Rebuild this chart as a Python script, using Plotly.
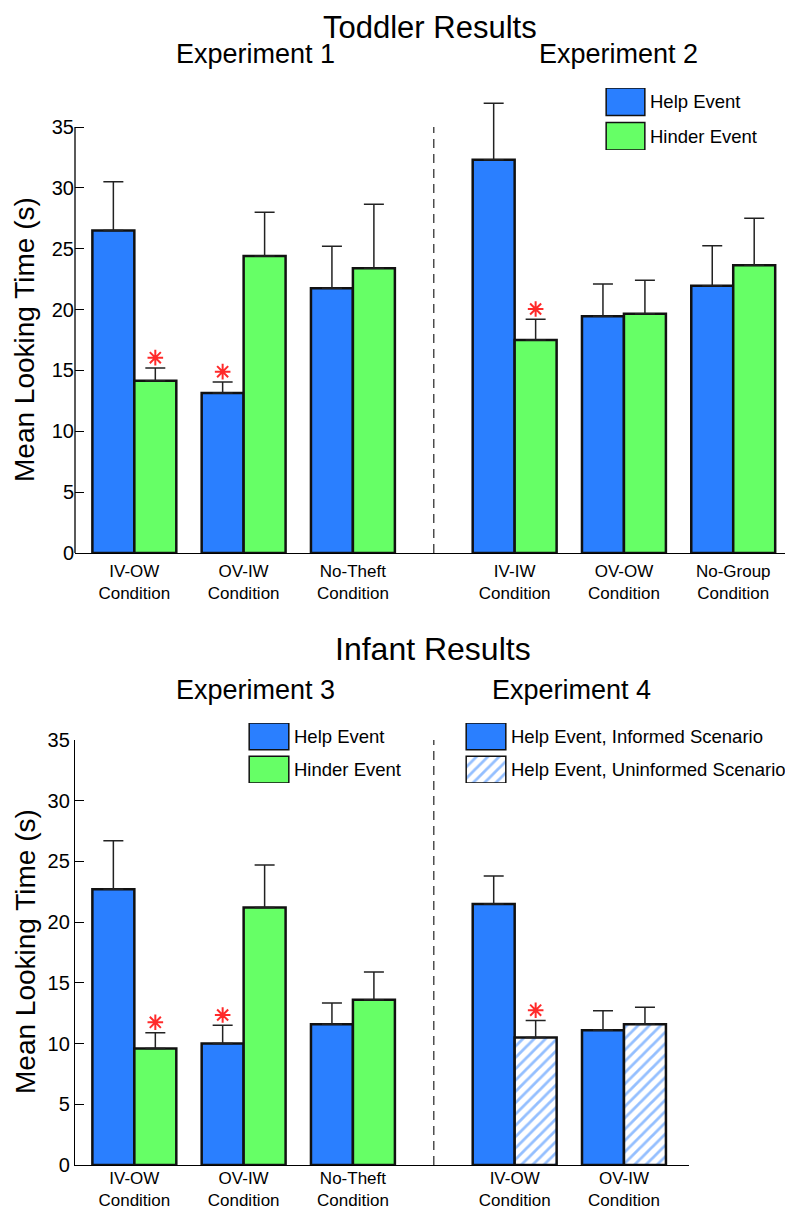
import plotly.graph_objects as go

# ---------------- data ----------------
toddler_labels = ["IV-OW<br>Condition", "OV-IW<br>Condition", "No-Theft<br>Condition",
                  "IV-IW<br>Condition", "OV-OW<br>Condition", "No-Group<br>Condition"]
toddler_pos = [1, 2, 3, 4.48, 5.48, 6.48]
toddler_help = [26.5, 13.15, 21.75, 32.3, 19.45, 21.95]
toddler_help_err = [4.0, 0.9, 3.45, 4.65, 2.65, 3.3]
toddler_hinder = [14.15, 24.4, 23.4, 17.5, 19.65, 23.65]
toddler_hinder_err = [1.05, 3.6, 5.25, 1.7, 2.75, 3.85]
toddler_star_help = [False, True, False, False, False, False]
toddler_star_hinder = [True, False, False, True, False, False]

exp3_labels = ["IV-OW<br>Condition", "OV-IW<br>Condition", "No-Theft<br>Condition"]
exp3_pos = [1, 2, 3]
exp3_help = [22.7, 10.0, 11.6]
exp3_help_err = [4.0, 1.5, 1.75]
exp3_hinder = [9.6, 21.2, 13.6]
exp3_hinder_err = [1.3, 3.5, 2.3]
exp3_star_help = [False, True, False]
exp3_star_hinder = [True, False, False]

exp4_labels = ["IV-OW<br>Condition", "OV-IW<br>Condition"]
exp4_pos = [4.48, 5.48]
exp4_informed = [21.5, 11.1]
exp4_informed_err = [2.3, 1.6]
exp4_uninformed = [10.5, 11.6]
exp4_uninformed_err = [1.4, 1.4]
exp4_star_informed = [False, False]
exp4_star_uninformed = [True, False]

legend_top = ["Help Event", "Hinder Event"]
legend_exp3 = ["Help Event", "Hinder Event"]
legend_exp4 = ["Help Event, Informed Scenario", "Help Event, Uninformed Scenario"]

y_ticks = [0, 5, 10, 15, 20, 25, 30, 35]

# ---------------- style ----------------
PAGE = 8  # default page margin around the plot div
W, H = 793 - PAGE, 1212 - PAGE
BLUE = "#2a7fff"
GREEN = "#66ff66"
EDGE = "#111111"
STAR = "#ff2a2a"
FONT = "Liberation Sans, Arial, sans-serif"
BAR_W = 0.384
DIVIDER_X = 3.74
Y_MAX = 35
TOP_RANGE = 37.6  # extra headroom so the tallest error bar is not clipped
PX_PER_UNIT = (553 - 127) / 35


def px_x(p):
    return (p - PAGE) / W


def px_y(p):
    return 1 - (p - PAGE) / H


fig = go.Figure()


def add_bars(x, y, err, stars, side, color, xa, ya, pattern=None):
    off = -BAR_W if side == "left" else 0
    marker = dict(color=color, line=dict(color=EDGE, width=2.5))
    if pattern:
        marker["pattern"] = pattern
    fig.add_trace(go.Bar(
        x=x, y=y, width=BAR_W, offset=off, marker=marker, cliponaxis=False,
        error_y=dict(type="data", array=err, arrayminus=[0] * len(err), symmetric=False,
                     color="#222222", thickness=1.5, width=10),
        xaxis=xa, yaxis=ya, showlegend=False, hoverinfo="skip"))
    sx = [xi + off + BAR_W / 2 for xi, s in zip(x, stars) if s]
    sy = [yi + ei + 0.85 for yi, ei, s in zip(y, err, stars) if s]
    fig.add_trace(go.Scatter(
        x=sx, y=sy, mode="markers", xaxis=xa, yaxis=ya, showlegend=False, hoverinfo="skip",
        marker=dict(symbol="asterisk-open", size=13, color=STAR, line=dict(color=STAR, width=2))))


hatch = dict(shape="/", fgcolor=BLUE, bgcolor="white", size=8, solidity=0.35)

# top panel
add_bars(toddler_pos, toddler_help, toddler_help_err, toddler_star_help, "left", BLUE, "x", "y")
add_bars(toddler_pos, toddler_hinder, toddler_hinder_err, toddler_star_hinder, "right", GREEN, "x", "y")

# bottom panel
add_bars(exp3_pos, exp3_help, exp3_help_err, exp3_star_help, "left", BLUE, "x2", "y2")
add_bars(exp3_pos, exp3_hinder, exp3_hinder_err, exp3_star_hinder, "right", GREEN, "x2", "y2")
add_bars(exp4_pos, exp4_informed, exp4_informed_err, exp4_star_informed, "left", BLUE, "x2", "y2")
add_bars(exp4_pos, exp4_uninformed, exp4_uninformed_err, exp4_star_uninformed, "right", "white",
         "x2", "y2", pattern=hatch)


# legend swatches drawn as small bar charts on their own axes
def add_legend(names, colors, xa, ya, patterns=(None, None)):
    for name, c, pat in zip(names, colors, patterns):
        marker = dict(color=c, line=dict(color=EDGE, width=1.5))
        if pat:
            marker["pattern"] = pat
        fig.add_trace(go.Bar(x=[1], y=[name], orientation="h", width=0.8, marker=marker,
                             xaxis=xa, yaxis=ya, showlegend=False, hoverinfo="skip"))


add_legend(legend_top, [BLUE, GREEN], "x3", "y3")
add_legend(legend_exp3, [BLUE, GREEN], "x4", "y4")
add_legend(legend_exp4, [BLUE, "white"], "x5", "y5", patterns=(None, hatch))

axis_common = dict(showgrid=False, zeroline=False, showline=True, linecolor="black",
                   linewidth=1.3, automargin=False, fixedrange=True)
y_common = dict(axis_common, tickvals=y_ticks, ticks="inside", ticklen=9,
                tickcolor="black", tickwidth=1.3, tickfont=dict(size=20, color="black"))
x_common = dict(axis_common, ticks="", tickfont=dict(size=17, color="black"))

leg_x = dict(visible=False, range=[-0.03, 1.03], fixedrange=True)
leg_y = dict(type="category", side="right", showline=False, showgrid=False, zeroline=False,
             ticks="", range=[1.4, -0.4], tickfont=dict(size=18.5, color="black"),
             ticklabelstandoff=3, automargin=False, fixedrange=True)

top_px = 553 - TOP_RANGE * PX_PER_UNIT

fig.update_layout(
    width=W, height=H,
    margin=dict(l=0, r=0, t=0, b=0),
    paper_bgcolor="white", plot_bgcolor="rgba(0,0,0,0)",
    font=dict(family=FONT, color="black"),
    barmode="overlay",
    showlegend=False,
    xaxis=dict(x_common, domain=[px_x(75), 1], range=[0.457, 7.027], ticklabelstandoff=2,
               tickvals=toddler_pos, ticktext=toddler_labels, anchor="y"),
    yaxis=dict(y_common, range=[0, TOP_RANGE], showline=False,
               domain=[px_y(553), px_y(top_px)], anchor="x"),
    xaxis2=dict(x_common, domain=[px_x(75), px_x(689)], range=[0.457, 6.075], ticklabelstandoff=-3,
                tickvals=exp3_pos + exp4_pos, ticktext=exp3_labels + exp4_labels, anchor="y2"),
    yaxis2=dict(y_common, range=[0, Y_MAX], domain=[px_y(1165), px_y(740)], anchor="x2"),
    xaxis3=dict(leg_x, domain=[px_x(605), px_x(646)], anchor="y3"),
    yaxis3=dict(leg_y, domain=[px_y(150), px_y(88)], anchor="x3"),
    xaxis4=dict(leg_x, domain=[px_x(248), px_x(290)], anchor="y4"),
    yaxis4=dict(leg_y, domain=[px_y(783), px_y(723)], anchor="x4"),
    xaxis5=dict(leg_x, domain=[px_x(465), px_x(507)], anchor="y5"),
    yaxis5=dict(leg_y, domain=[px_y(783), px_y(723)], anchor="x5"),
)

# top panel's y axis line stops at 35, like the original
fig.add_shape(type="line", xref="x domain", yref="y", x0=0, x1=0, y0=0, y1=Y_MAX,
              line=dict(color="black", width=1.3))

# dashed dividers between experiments
for xr, yr in [("x", "y"), ("x2", "y2")]:
    fig.add_shape(type="line", xref=xr, yref=yr, x0=DIVIDER_X, x1=DIVIDER_X, y0=0, y1=Y_MAX,
                  line=dict(color="#333333", width=1.3, dash="9px,6px"))

# main title sits right at the top edge of the page
fig.add_annotation(text="Toddler Results", x=px_x(430), y=1, xref="paper", yref="paper",
                   xanchor="center", yanchor="top", showarrow=False,
                   font=dict(size=31, color="black"))

titles = [
    ("Experiment 1", 255, 54, 27),
    ("Experiment 2", 618, 54, 27),
    ("Infant Results", 433, 649, 32),
    ("Experiment 3", 255, 690, 27),
    ("Experiment 4", 571, 690, 27),
]
for text, cx, cy, size in titles:
    fig.add_annotation(text=text, x=px_x(cx), y=px_y(cy), xref="paper", yref="paper",
                       xanchor="center", yanchor="middle", showarrow=False,
                       font=dict(size=size, color="black"))

for cy in [340, 952]:
    fig.add_annotation(text="Mean Looking Time (s)", x=px_x(25), y=px_y(cy),
                       xref="paper", yref="paper", xanchor="center", yanchor="middle",
                       textangle=-90, showarrow=False, font=dict(size=28, color="black"))

fig.write_html("out.html")
